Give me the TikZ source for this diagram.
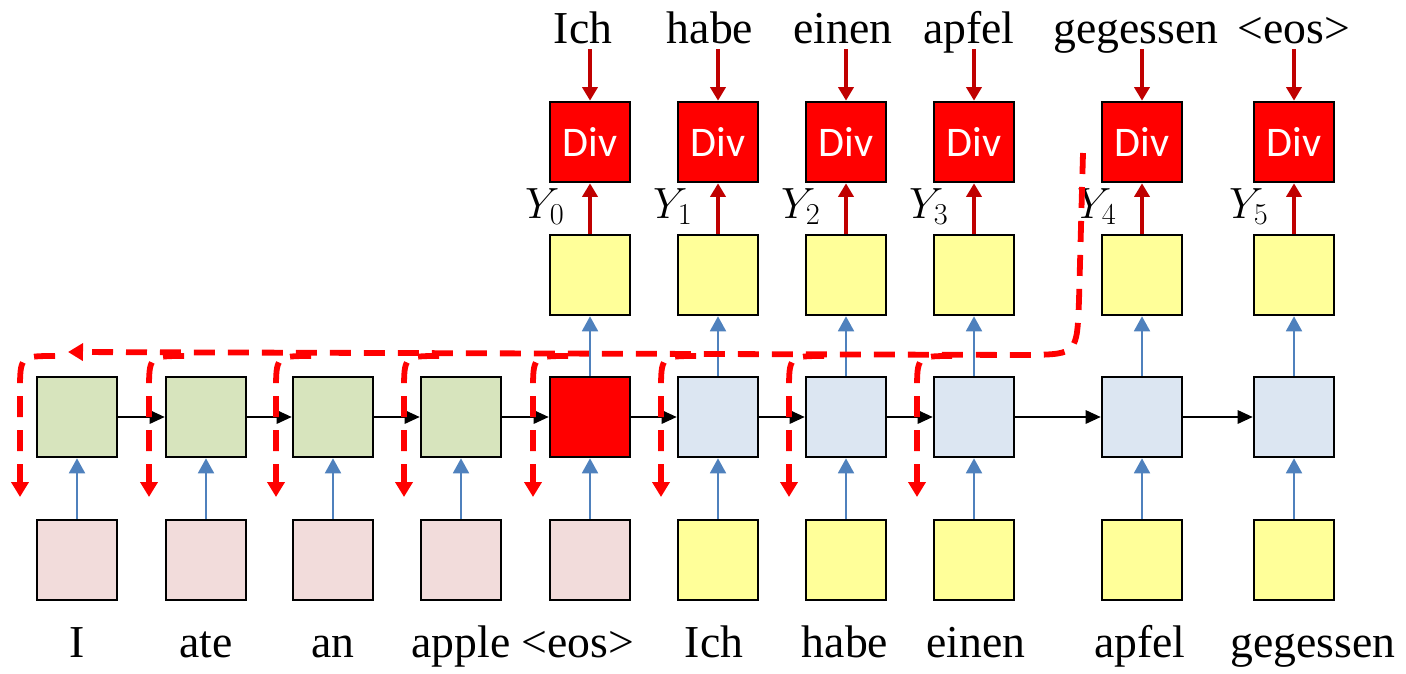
\documentclass[tikz,border=0pt]{standalone}
\usepackage{fontspec}
\setmainfont{Liberation Serif}
\newfontfamily\divfont{Carlito}
\usetikzlibrary{arrows.meta}

\definecolor{encgreen}{HTML}{D7E4BD}
\definecolor{inpink}{HTML}{F2DCDB}
\definecolor{outyellow}{HTML}{FFFF99}
\definecolor{decblue}{HTML}{DCE6F2}
\definecolor{linkblue}{HTML}{4F81BD}
\definecolor{divred}{HTML}{C00000}

\begin{document}
\begin{tikzpicture}[x=0.02cm, y=-0.02cm,
		cell/.style={draw=black, line width=1.5pt, minimum width=1.6cm, minimum height=1.6cm, inner sep=0pt},
		word/.style={font=\fontsize{26}{30}\selectfont, inner sep=0pt, anchor=base, text depth=0.12cm},
		ylab/.style={font=\fontsize{27}{30}\selectfont, inner sep=0pt, anchor=base east},
		recur/.style={line width=0.85pt, -{Triangle[length=0.3cm, width=0.27cm]}},
		feed/.style={linkblue, line width=1.1pt, -{Triangle[length=0.3cm, width=0.32cm]}},
		divlink/.style={divred, line width=2pt, -{Triangle[length=0.27cm, width=0.3cm]}},
		backprop/.style={red, line width=3.3pt, dash pattern=on 0.42cm off 0.26cm, -{Triangle[length=0.3cm, width=0.34cm]}}]
	
	\useasboundingbox (0,0) rectangle (1406,673);
	
	% encoder
	\foreach \i/\x/\w/\wx in {1/77/I/77, 2/206/ate/206, 3/333/an/333, 4/461/apple/461} {
		\node[cell, fill=encgreen] (m\i) at (\x,417) {};
		\node[cell, fill=inpink] (b\i) at (\x,560) {};
		\node[word] (l\i) at (\wx,657) {\w};
		\draw[feed] (b\i) -- (m\i);
	}
	\node[cell, fill=red] (m5) at (590,417) {};
	\node[cell, fill=inpink] (b5) at (590,560) {};
	\node[word] (l5) at (578,657) {<eos>};
	\draw[feed] (b5) -- (m5);
	
	% decoder
	\foreach \i/\x/\w/\wx in {6/718/Ich/714, 7/846/habe/845, 8/974/einen/976, 9/1142/apfel/1140, 10/1294/gegessen/1313} {
		\node[cell, fill=decblue] (m\i) at (\x,417) {};
		\node[cell, fill=outyellow] (b\i) at (\x,560) {};
		\node[word] (l\i) at (\wx,657) {\w};
		\draw[feed] (b\i) -- (m\i);
	}
	
	\foreach \i [count=\j from 2] in {1,...,9}
		\draw[recur] (m\i.east) -- (m\j.west);
	
	% outputs and divergences
	\foreach \i/\x/\k/\w/\wx in {5/590/0/Ich/583, 6/718/1/habe/710, 7/846/2/einen/843, 8/974/3/apfel/969, 9/1142/4/gegessen/1136, 10/1294/5/{<eos>}/1294} {
		\node[cell, fill=outyellow] (u\i) at (\x,275) {};
		\node[cell, fill=red, text=white, font=\divfont\fontsize{24}{28}\selectfont] (d\i) at (\x,142) {Div};
		\node[word] (t\i) at (\wx,43) {\w};
		\node[ylab] (y\i) at (\x-25,218) {$Y_{\k}$};
		\draw[feed] (m\i) -- (u\i);
		\draw[divlink] (u\i) -- (d\i);
		\draw[divlink] (t\i.south -| d\i.north) -- (d\i.north);
	}
	
	% backpropagation
	\draw[backprop] (1083,153) -- (1079,300) .. controls (1077,354) .. (1030,355) -- (68,352);
	\foreach \x in {77,206,333,461,590,718,846,974}
		\draw[backprop] (\x-22,356) .. controls (\x-57,356) .. (\x-57,392) -- (\x-57,497);
	
\end{tikzpicture}
\end{document}
